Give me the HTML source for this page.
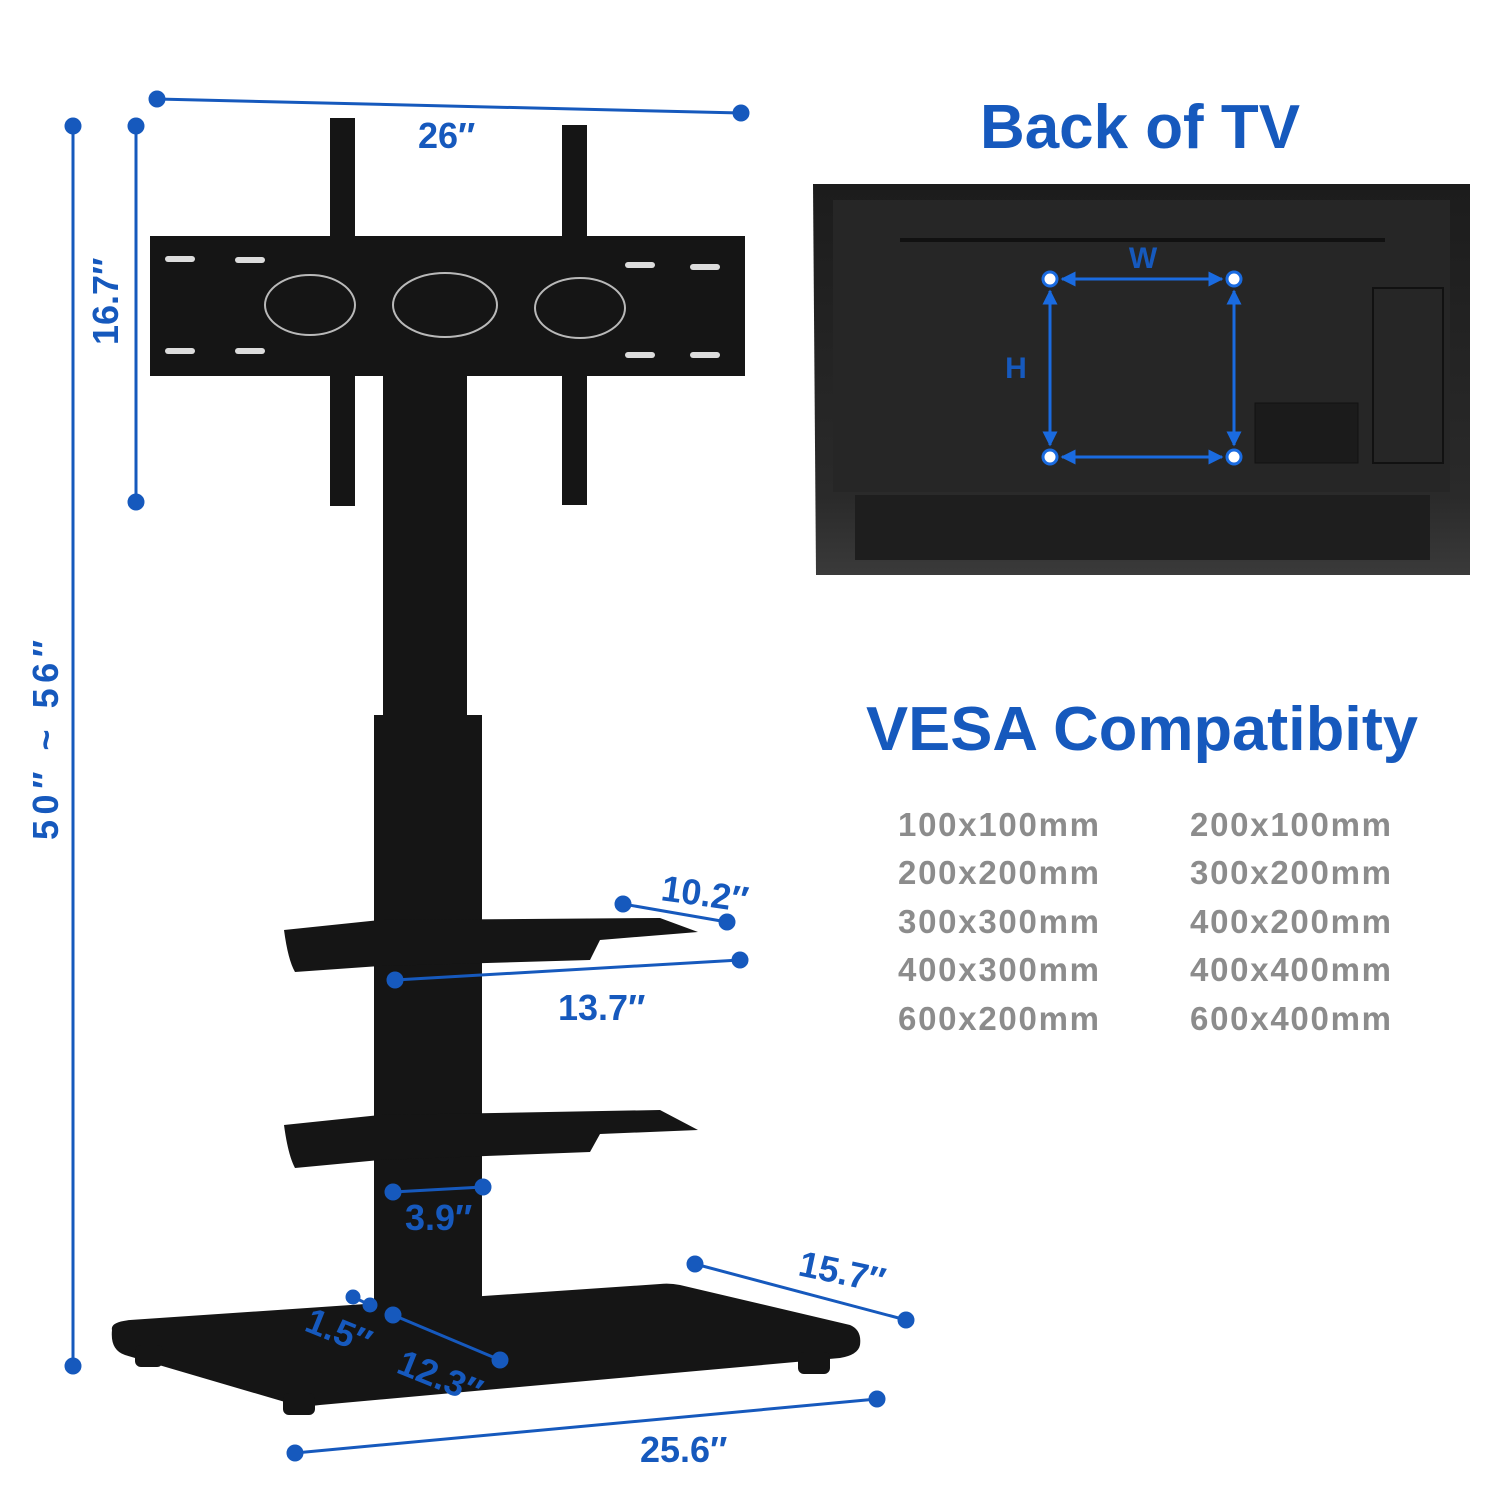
<!DOCTYPE html>
<html><head><meta charset="utf-8"><style>
html,body{margin:0;padding:0;background:#fff;}
svg{display:block;}
.b{font-family:"Liberation Sans",sans-serif;font-weight:bold;fill:#1659bd;}
.g{font-family:"Liberation Sans",sans-serif;font-weight:bold;fill:#8c8c8c;font-size:33px;}
</style></head><body>
<svg width="1500" height="1500" viewBox="0 0 1500 1500" xmlns="http://www.w3.org/2000/svg">
<defs>
<linearGradient id="tv" x1="0" y1="0" x2="0" y2="1"><stop offset="0" stop-color="#1c1c1c"/><stop offset="0.8" stop-color="#2a2a2a"/><stop offset="1" stop-color="#3a3a3a"/></linearGradient>
<marker id="ar" viewBox="0 0 10 10" refX="9" refY="5" markerWidth="5" markerHeight="5" orient="auto-start-reverse"><path d="M0 0L10 5L0 10Z" fill="#1a6be0"/></marker>
</defs>
<!-- stand -->
<g fill="#151515">
<path d="M112 1330 Q110 1322 130 1320 L660 1284 Q670 1283 680 1285 L850 1325 Q862 1330 860 1345 Q858 1355 840 1358 L320 1405 Q300 1408 285 1402 L125 1355 Q110 1350 112 1330Z"/>
<rect x="283" y="1393" width="32" height="22" rx="6"/>
<rect x="798" y="1352" width="32" height="22" rx="6"/>
<rect x="135" y="1345" width="28" height="22" rx="6"/>
<rect x="374" y="715" width="108" height="595"/>
<rect x="383" y="375" width="84" height="345"/>
<path d="M284 930 L380 920 L660 918 L698 932 L600 940 L590 960 L380 966 L295 972 Q288 960 284 930Z"/>
<path d="M284 1125 L380 1115 L660 1110 L698 1130 L600 1134 L590 1152 L380 1160 L295 1168 Q288 1155 284 1125Z"/>
<rect x="150" y="236" width="595" height="140"/>
<rect x="330" y="118" width="25" height="388"/>
<rect x="562" y="125" width="25" height="380"/>
</g>
<g fill="#fff" opacity="0.85">
<rect x="165" y="256" width="30" height="6" rx="3"/><rect x="235" y="257" width="30" height="6" rx="3"/><rect x="625" y="262" width="30" height="6" rx="3"/><rect x="690" y="264" width="30" height="6" rx="3"/>
<rect x="165" y="348" width="30" height="6" rx="3"/><rect x="235" y="348" width="30" height="6" rx="3"/><rect x="625" y="352" width="30" height="6" rx="3"/><rect x="690" y="352" width="30" height="6" rx="3"/>
</g>
<g fill="none" stroke="#fff" stroke-width="2" opacity="0.7">
<ellipse cx="310" cy="305" rx="45" ry="30"/><ellipse cx="445" cy="305" rx="52" ry="32"/><ellipse cx="580" cy="308" rx="45" ry="30"/>
</g>
<!-- dimension lines -->
<g stroke="#1659bd" stroke-width="3" fill="#1659bd">
<line x1="73" y1="126" x2="73" y2="1366"/><circle cx="73" cy="126" r="7"/><circle cx="73" cy="1366" r="7"/>
<line x1="136" y1="126" x2="136" y2="502"/><circle cx="136" cy="126" r="7"/><circle cx="136" cy="502" r="7"/>
<line x1="157" y1="99" x2="741" y2="113"/><circle cx="157" cy="99" r="7"/><circle cx="741" cy="113" r="7"/>
<line x1="623" y1="904" x2="727" y2="922"/><circle cx="623" cy="904" r="7"/><circle cx="727" cy="922" r="7"/>
<line x1="395" y1="980" x2="740" y2="960"/><circle cx="395" cy="980" r="7"/><circle cx="740" cy="960" r="7"/>
<line x1="393" y1="1192" x2="483" y2="1187"/><circle cx="393" cy="1192" r="7"/><circle cx="483" cy="1187" r="7"/>
<line x1="695" y1="1264" x2="906" y2="1320"/><circle cx="695" cy="1264" r="7"/><circle cx="906" cy="1320" r="7"/>
<line x1="295" y1="1453" x2="877" y2="1399"/><circle cx="295" cy="1453" r="7"/><circle cx="877" cy="1399" r="7"/>
<line x1="393" y1="1315" x2="500" y2="1360"/><circle cx="393" cy="1315" r="7"/><circle cx="500" cy="1360" r="7"/>
<line x1="353" y1="1297" x2="370" y2="1305"/><circle cx="353" cy="1297" r="6"/><circle cx="370" cy="1305" r="6"/>
</g>
<!-- TV back -->
<path d="M813 184 L1470 184 L1470 575 L816 575Z" fill="url(#tv)"/>
<rect x="833" y="200" width="617" height="292" fill="#262626"/>
<rect x="855" y="495" width="575" height="65" fill="#1e1e1e"/>
<line x1="900" y1="240" x2="1385" y2="240" stroke="#111" stroke-width="4"/>
<rect x="1373" y="288" width="70" height="175" fill="none" stroke="#111" stroke-width="2"/>
<rect x="1255" y="403" width="103" height="60" fill="#1b1b1b" stroke="#111"/>
<g stroke="#1a6be0" stroke-width="3" fill="none">
<line x1="1062" y1="279" x2="1222" y2="279" marker-start="url(#ar)" marker-end="url(#ar)"/><line x1="1062" y1="457" x2="1222" y2="457" marker-start="url(#ar)" marker-end="url(#ar)"/>
<line x1="1050" y1="291" x2="1050" y2="445" marker-start="url(#ar)" marker-end="url(#ar)"/><line x1="1234" y1="291" x2="1234" y2="445" marker-start="url(#ar)" marker-end="url(#ar)"/>
</g>
<g fill="#fff" stroke="#1a6be0" stroke-width="3">
<circle cx="1050" cy="279" r="7"/><circle cx="1234" cy="279" r="7"/><circle cx="1050" cy="457" r="7"/><circle cx="1234" cy="457" r="7"/>
</g>
<text class="b" x="1143" y="268" font-size="30" text-anchor="middle" fill="#1a6be0">W</text>
<text class="b" x="1016" y="378" font-size="30" text-anchor="middle" fill="#1a6be0">H</text>
<!-- labels -->
<text class="b" x="980" y="148" font-size="62" textLength="320" lengthAdjust="spacingAndGlyphs">Back of TV</text>
<text class="b" x="866" y="750" font-size="62" textLength="552" lengthAdjust="spacingAndGlyphs">VESA Compatibity</text>
<g class="g">
<text x="898" y="836" textLength="201">100x100mm</text><text x="898" y="884" textLength="201">200x200mm</text><text x="898" y="933" textLength="201">300x300mm</text><text x="898" y="981" textLength="201">400x300mm</text><text x="898" y="1030" textLength="201">600x200mm</text>
<text x="1190" y="836" textLength="201">200x100mm</text><text x="1190" y="884" textLength="201">300x200mm</text><text x="1190" y="933" textLength="201">400x200mm</text><text x="1190" y="981" textLength="201">400x400mm</text><text x="1190" y="1030" textLength="201">600x400mm</text>
</g>
<g class="b" font-size="36">
<text x="418" y="148">26″</text>
<text transform="translate(118,345) rotate(-90)">16.7″</text>
<text transform="translate(58,840) rotate(-90)" textLength="200">50″ ~ 56″</text>
<text transform="translate(660,900) rotate(8)">10.2″</text>
<text x="558" y="1020">13.7″</text>
<text x="405" y="1230">3.9″</text>
<text transform="translate(797,1275) rotate(12)">15.7″</text>
<text transform="translate(303,1330) rotate(22)">1.5″</text>
<text transform="translate(395,1372) rotate(22)">12.3″</text>
<text x="640" y="1462">25.6″</text>
</g>
</svg>
</body></html>
